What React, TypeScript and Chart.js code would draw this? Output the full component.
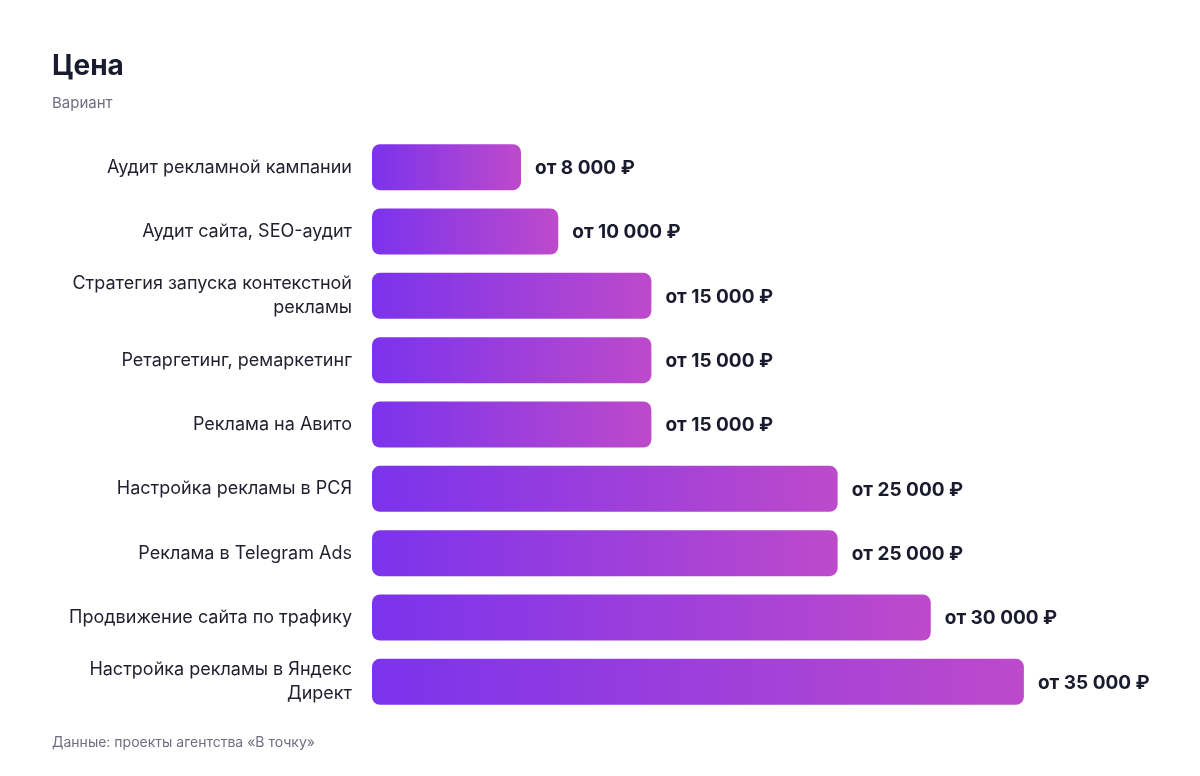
import React, { useEffect, useRef } from 'react';
import Chart from 'chart.js/auto';

const categories: (string | string[])[] = [
  'Аудит рекламной кампании',
  'Аудит сайта, SEO-аудит',
  ['Стратегия запуска контекстной', 'рекламы'],
  'Ретаргетинг, ремаркетинг',
  'Реклама на Авито',
  'Настройка рекламы в РСЯ',
  'Реклама в Telegram Ads',
  'Продвижение сайта по трафику',
  ['Настройка рекламы в Яндекс', 'Директ'],
];

const prices: number[] = [8000, 10000, 15000, 15000, 15000, 25000, 25000, 30000, 35000];

const FONT = 'Inter, "Liberation Sans", sans-serif';

const formatPrice = (v: number) =>
  'от ' + String(v).replace(/\B(?=(\d{3})+(?!\d))/g, ' ') + ' ₽';

const valueLabels = {
  id: 'valueLabels',
  afterDatasetsDraw(chart: any) {
    const ctx = chart.ctx;
    const meta = chart.getDatasetMeta(0);
    ctx.save();
    ctx.font = `bold 19px ${FONT}`;
    ctx.fillStyle = '#1b1b2f';
    ctx.textAlign = 'left';
    ctx.textBaseline = 'middle';
    meta.data.forEach((bar: any, i: number) => {
      ctx.fillText(formatPrice(prices[i]), bar.x + 14, bar.y + 1);
    });
    ctx.restore();
  },
};

const App: React.FC = () => {
  const chartRef = useRef<HTMLCanvasElement>(null);
  const chartInstance = useRef<Chart>();

  useEffect(() => {
    if (!chartRef.current) return;
    const ctx = chartRef.current.getContext('2d');
    if (!ctx) return;

    chartInstance.current = new Chart(ctx, {
      type: 'bar',
      data: {
        labels: categories,
        datasets: [
          {
            label: 'Цена',
            data: prices,
            backgroundColor: (context: any) => {
              const chart = context.chart;
              const { chartArea, scales } = chart;
              if (!chartArea || !scales.x) return '#7c35ec';
              const x0 = scales.x.getPixelForValue(0);
              const x1 = scales.x.getPixelForValue(prices[context.dataIndex] ?? 0);
              const g = chart.ctx.createLinearGradient(x0, 0, Math.max(x1, x0 + 1), 0);
              g.addColorStop(0, '#7b33ec');
              g.addColorStop(1, '#bd4acb');
              return g;
            },
            borderRadius: 8,
            borderSkipped: false,
            barPercentage: 0.715,
            categoryPercentage: 1,
          },
        ],
      },
      plugins: [valueLabels],
      options: {
        indexAxis: 'y',
        responsive: false,
        animation: false,
        layout: {
          padding: { top: 135, bottom: 62, left: 0, right: 83 },
        },
        plugins: {
          legend: { display: false },
          tooltip: { enabled: false },
        },
        scales: {
          x: {
            display: false,
            min: 0,
            max: 40000,
          },
          y: {
            afterFit: (scale: any) => {
              scale.width = 372;
            },
            grid: { display: false, drawTicks: false },
            border: { display: false },
            ticks: {
              padding: 20,
              color: '#1f1f2e',
              font: { family: FONT, size: 18, lineHeight: 1.35 },
            },
          },
        },
      },
    });

    return () => {
      if (chartInstance.current) {
        chartInstance.current.destroy();
      }
    };
  }, []);

  return (
    <div
      style={{
        position: 'absolute',
        left: 0,
        top: 0,
        width: 1200,
        height: 776,
        background: '#ffffff',
        fontFamily: FONT,
      }}
    >
      <canvas ref={chartRef} width={1200} height={776} style={{ position: 'absolute', left: 0, top: 0 }} />
      <div
        style={{
          position: 'absolute',
          left: 52,
          top: 51,
          fontSize: 28,
          lineHeight: '28px',
          fontWeight: 'bold',
          color: '#1b1b2f',
        }}
      >
        Цена
      </div>
      <div
        style={{
          position: 'absolute',
          left: 52,
          top: 95,
          fontSize: 15,
          lineHeight: '15px',
          color: '#6e6e82',
        }}
      >
        Вариант
      </div>
      <div
        style={{
          position: 'absolute',
          left: 52,
          top: 735,
          fontSize: 14,
          lineHeight: '14px',
          color: '#6e6e82',
        }}
      >
        Данные: проекты агентства «В точку»
      </div>
    </div>
  );
};

export default App;
